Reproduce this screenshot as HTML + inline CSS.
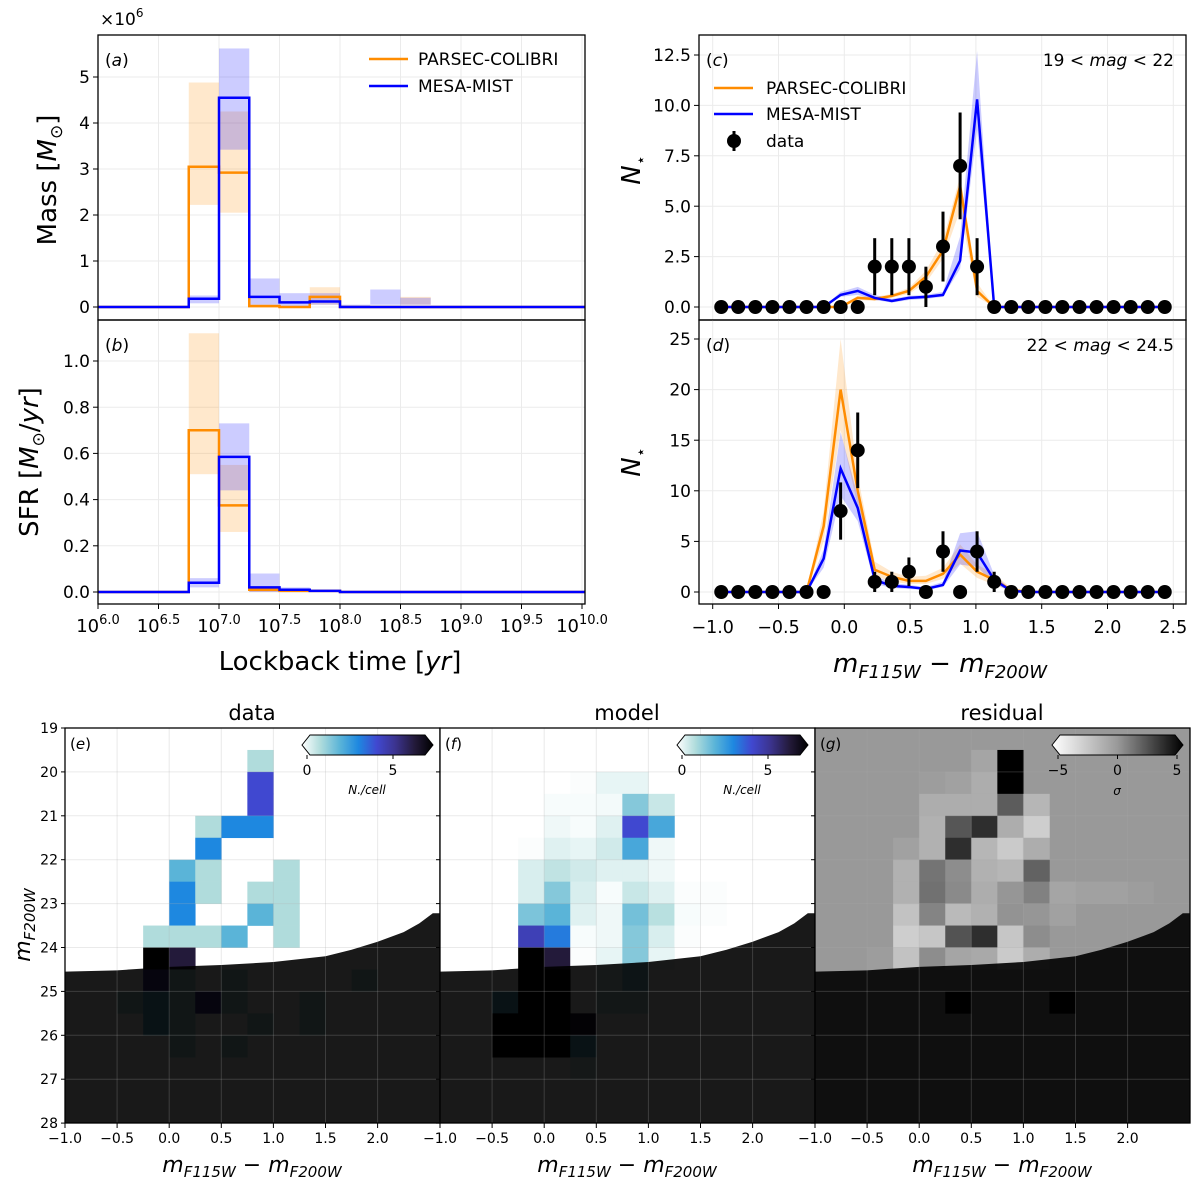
<!DOCTYPE html>
<html><head><meta charset="utf-8">
<style>
html,body{margin:0;padding:0;background:#fff;}
svg{display:block;font-family:"DejaVu Sans","Liberation Sans",sans-serif;}
</style></head>
<body>
<svg id="chart" width="1200" height="1184" viewBox="0 0 1200 1184" xmlns="http://www.w3.org/2000/svg">
<defs>
<linearGradient id="cmapE" x1="0" x2="1" y1="0" y2="0">
<stop offset="0" stop-color="#ffffff"/><stop offset="0.14" stop-color="#b0dcdc"/><stop offset="0.29" stop-color="#5ab4d8"/><stop offset="0.43" stop-color="#1e88e0"/><stop offset="0.57" stop-color="#4048d0"/><stop offset="0.71" stop-color="#3c3490"/><stop offset="0.86" stop-color="#231a3a"/><stop offset="1" stop-color="#000000"/>
</linearGradient>
<linearGradient id="cmapG" x1="0" x2="1" y1="0" y2="0">
<stop offset="0" stop-color="#ffffff"/><stop offset="0.5" stop-color="#999999"/><stop offset="1" stop-color="#000000"/>
</linearGradient>
<clipPath id="clipA"><rect x="98" y="35" width="487" height="285"/></clipPath>
<clipPath id="clipB"><rect x="98" y="320" width="487" height="284"/></clipPath>
<clipPath id="clipC"><rect x="699" y="35" width="487" height="285"/></clipPath>
<clipPath id="clipD"><rect x="699" y="320" width="487" height="284"/></clipPath>
<clipPath id="clipH0"><rect x="65" y="728" width="375" height="395"/></clipPath>
<clipPath id="clipH1"><rect x="440" y="728" width="375" height="395"/></clipPath>
<clipPath id="clipH2"><rect x="815" y="728" width="375" height="395"/></clipPath>
</defs>
</svg>
<script>
// ---------- DATA: panels (a)/(b) ----------
const binEdges = [6.75, 7.0, 7.25, 7.5, 7.75, 8.0, 8.25, 8.5, 8.75];
const massOrange   = [3.05, 2.92, 0.02, 0.00, 0.22, 0, 0, 0];
const massOrangeLo = [2.22, 2.05, 0.00, 0.00, 0.05, 0, 0, 0.05];
const massOrangeHi = [4.88, 4.25, 0.06, 0.02, 0.43, 0, 0, 0.22];
const massBlue     = [0.18, 4.55, 0.22, 0.10, 0.12, 0, 0, 0];
const massBlueLo   = [0.08, 3.42, 0.05, 0.02, 0.05, 0, 0.05, 0.05];
const massBlueHi   = [0.25, 5.62, 0.62, 0.30, 0.30, 0.05, 0.38, 0.20];
const sfrOrange    = [0.70, 0.375, 0.01, 0.005, 0.005, 0, 0, 0];
const sfrOrangeLo  = [0.51, 0.26, 0.00, 0.00, 0.00, 0, 0, 0];
const sfrOrangeHi  = [1.12, 0.55, 0.02, 0.01, 0.01, 0, 0, 0];
const sfrBlue      = [0.04, 0.585, 0.02, 0.01, 0.005, 0, 0, 0];
const sfrBlueLo    = [0.02, 0.44, 0.00, 0.00, 0.00, 0, 0, 0];
const sfrBlueHi    = [0.06, 0.73, 0.08, 0.02, 0.01, 0, 0, 0];
const massTicks = [0, 1, 2, 3, 4, 5];
const sfrTicks = [0.0, 0.2, 0.4, 0.6, 0.8, 1.0];
const ageTicks = [6.0, 6.5, 7.0, 7.5, 8.0, 8.5, 9.0, 9.5, 10.0];

// ---------- DATA: panels (c)/(d) ----------
const colorCenters = [-0.935,-0.806,-0.676,-0.546,-0.417,-0.287,-0.157,-0.028,0.102,0.231,0.361,0.491,0.620,0.750,0.880,1.009,1.139,1.269,1.398,1.528,1.657,1.787,1.917,2.046,2.176,2.306,2.435];
const cData    = [0,0,0,0,0,0,0,0,0,2,2,2,1,3,7,2,0,0,0,0,0,0,0,0,0,0,0];
const cOrange  = [0,0,0,0,0,0,0,0,0.45,0.4,0.55,0.8,1.5,2.8,6.0,0.8,0,0,0,0,0,0,0,0,0,0,0];
const cOrangeLo= [0,0,0,0,0,0,0,0,0.35,0.3,0.45,0.65,1.2,2.4,4.8,0.5,0,0,0,0,0,0,0,0,0,0,0];
const cOrangeHi= [0,0,0,0,0,0,0,0.05,0.55,0.5,0.65,0.95,1.8,3.3,6.5,1.2,0,0,0,0,0,0,0,0,0,0,0];
const cBlue    = [0,0,0,0,0,0,0,0.6,0.8,0.45,0.3,0.45,0.5,0.6,2.3,10.3,0,0,0,0,0,0,0,0,0,0,0];
const cBlueLo  = [0,0,0,0,0,0,0,0.5,0.6,0.35,0.22,0.35,0.4,0.5,1.9,8.8,0,0,0,0,0,0,0,0,0,0,0];
const cBlueHi  = [0,0,0,0,0,0,0,0.75,1.0,0.6,0.4,0.55,0.6,0.75,3.5,12.7,0,0,0,0,0,0,0,0,0,0,0];
const dData    = [0,0,0,0,0,0,0,8,14,1,1,2,0,4,0,4,1,0,0,0,0,0,0,0,0,0,0];
const dOrange  = [0,0,0,0,0,0,6.5,20,10,2.2,1.5,1.1,1.1,1.8,3.7,2.0,1.2,0.2,0,0,0,0,0,0,0,0,0];
const dOrangeLo= [0,0,0,0,0,0,5,16,8.5,1.6,1.0,0.8,0.8,1.3,2.8,1.4,0.7,0.05,0,0,0,0,0,0,0,0,0];
const dOrangeHi= [0,0,0,0,0,0,8,25,11.5,3.0,2.0,1.5,1.6,2.4,4.7,2.7,1.8,0.4,0,0,0,0,0,0,0,0,0];
const dBlue    = [0,0,0,0,0,0,3.3,12.2,8.3,1.2,0.6,0.5,0.3,0.7,4.1,3.9,1.2,0.1,0,0,0,0,0,0,0,0,0];
const dBlueLo  = [0,0,0,0,0,0,2.4,9.5,7,0.8,0.4,0.3,0.2,0.5,2.7,2.5,0.8,0.05,0,0,0,0,0,0,0,0,0];
const dBlueHi  = [0,0,0,0,0,0,4.2,15.8,9.5,1.6,0.9,0.7,0.5,1.0,5.8,6.0,1.7,0.2,0,0,0,0,0,0,0,0,0];
const colorTicks = [-1.0,-0.5,0.0,0.5,1.0,1.5,2.0,2.5];
const cTicks = [0.0,2.5,5.0,7.5,10.0,12.5];
const dTicks = [0,5,10,15,20,25];

// ---------- DATA: heatmaps (e)(f)(g) ; rows mag 19.0..27.5 step 0.5, cols color -1.0..2.25 step 0.25 ----------
const cellColorEdges = [-1.0,-0.75,-0.5,-0.25,0.0,0.25,0.5,0.75,1.0,1.25,1.5,1.75,2.0,2.25];
const cellMagEdges = [19.0,19.5,20.0,20.5,21.0,21.5,22.0,22.5,23.0,23.5,24.0,24.5,25.0,25.5,26.0,26.5,27.0,27.5];
const gridData = [
[0,0,0,0,0,0,0,0,0,0,0,0,0,0],
[0,0,0,0,0,0,0,1,0,0,0,0,0,0],
[0,0,0,0,0,0,0,4,0,0,0,0,0,0],
[0,0,0,0,0,0,0,4,0,0,0,0,0,0],
[0,0,0,0,0,1,3,3,0,0,0,0,0,0],
[0,0,0,0,0,3,0,0,0,0,0,0,0,0],
[0,0,0,0,2,1,0,0,1,0,0,0,0,0],
[0,0,0,0,3,1,0,1,1,0,0,0,0,0],
[0,0,0,0,3,0,0,2,1,0,0,0,0,0],
[0,0,0,1,1,1,2,0,1,0,0,0,0,0],
[0,0,0,8,6,0,0,0,0,0,0,0,0,0],
[0,0,0,5,1,0,1,0,0,0,0,1,0,0],
[0,0,1,2,1,5,1,0,0,1,0,0,0,0],
[0,0,0,2,1,0,0,1,0,1,0,0,0,0],
[0,0,0,0,1,0,1,0,0,0,0,0,0,0],
[0,0,0,0,0,0,0,0,0,0,0,0,0,0],
[0,0,0,0,0,0,0,0,0,0,0,0,0,0],
[0,0,0,0,0,0,0,0,0,0,0,0,0,0]];
const gridModel = [
[0,0,0,0,0,0,0,0,0,0,0,0,0,0],
[0,0,0,0,0,0,0,0,0,0,0,0,0,0],
[0,0,0,0,0,0.05,0.3,0.3,0,0,0,0,0,0],
[0,0,0,0,0.1,0.1,0.15,1.5,0.7,0,0,0,0,0],
[0,0,0,0,0.2,0.1,0.4,4,2.3,0,0,0,0,0],
[0,0,0,0.05,0.4,0.3,0.6,2.3,0.2,0,0,0,0,0],
[0,0,0,0.5,0.8,0.6,0.4,0.4,0.2,0,0,0,0,0],
[0,0,0,0.5,1.5,0.5,0.1,0.7,0.4,0.05,0.05,0,0,0],
[0,0,0,1.6,2.0,0.4,0.2,1.7,0.9,0.1,0.05,0,0,0],
[0,0,0,4.4,3.2,0.1,0.2,1.5,0.5,0.05,0,0,0,0],
[0,0,0,8,6,0.05,0.3,1.5,0.3,0,0,0,0,0],
[0,0,0,8,8,0,0.5,1.5,0,0,0,0,0,0],
[0,0,2,8,8,0,0.8,0.8,0,0,0,0,0,0],
[0,0,8,8,8,6,0,0,0,0,0,0,0,0],
[0,0,7,8,8,2,0,0,0,0,0,0,0,0],
[0,0,0,0,0,0.5,0,0,0,0,0,0,0,0],
[0,0,0,0,0,0,0,0,0,0,0,0,0,0],
[0,0,0,0,0,0,0,0,0,0,0,0,0,0]];
const gridResid = [
[0,0,0,0,0,0,0,0,0,0,0,0,0,0],
[0,0,0,0,0,0,-0.6,5,0,0,0,0,0,0],
[0,0,0,0,-0.2,-0.4,-1.0,5,0,0,0,0,0,0],
[0,0,0,0,-1.0,-1.0,-1.0,2,-1.4,0,0,0,0,0],
[0,0,0,0,-1.2,2.2,3.5,-1.0,-2.6,0,0,0,0,0],
[0,0,0,-0.4,-1.2,3.5,-1.4,-2.4,-1.0,0,0,0,0,0],
[0,0,0,-1.2,1.2,0.4,-1.2,-1.4,1.8,0,0,0,0,0],
[0,0,0,-1.2,1.3,0.5,-1.0,0.1,0.8,-0.6,-0.4,-0.4,-0.2,0],
[0,0,0,-2.0,0.7,-1.6,-1.2,0.2,0.1,-0.4,0,0,0,0],
[0,0,0,-2.6,-2.2,2.3,3.5,-2.2,0.4,0,0,0,0,0],
[0,0,-0.2,-2.0,0.4,-0.6,-0.8,-2.4,-1.0,0,0,0,0,0],
[0,0,0,0,0,0,0,0,0,0,0,0,0,0],
[0,0,0,0,0,5,0,0,0,5,0,0,0,0],
[0,0,0,0,0,0,0,0,0,0,0,0,0,0],
[0,0,0,0,0,0,0,0,0,0,0,0,0,0],
[0,0,0,0,0,0,0,0,0,0,0,0,0,0],
[0,0,0,0,0,0,0,0,0,0,0,0,0,0],
[0,0,0,0,0,0,0,0,0,0,0,0,0,0]];
const maskColor = [-1.0,-0.5,0.0,0.5,1.0,1.5,1.75,2.0,2.25,2.4,2.53,2.6];
const maskMag   = [24.55,24.52,24.44,24.4,24.33,24.2,24.05,23.87,23.65,23.45,23.22,23.22];
const magTicks = [19,20,21,22,23,24,25,26,27,28];
const heatColorTicks = [-1.0,-0.5,0.0,0.5,1.0,1.5,2.0];

// ---------- helpers ----------
const NS='http://www.w3.org/2000/svg';
const svg=document.getElementById('chart');
function el(tag,attrs,parent){const e=document.createElementNS(NS,tag);for(const k in attrs)e.setAttribute(k,attrs[k]);(parent||svg).appendChild(e);return e;}
const ORANGE='#ff8c00', BLUE='#0000ff';
const OBAND='rgba(255,140,0,0.2)', BBAND='rgba(0,0,255,0.2)';

// scales
const XA = lg => 98 + (lg-6)*121;
const YA = m => 307 - m*46;
const YB = s => 592 - s*231;
const XC = c => 712.7 + (c+1)*131.6;
const YC = n => 307 - n*20.16;
const YD = n => 592 - n*10.12;
const heatOff = [65,440,815];
const XH = (c,p) => heatOff[p] + (c+1)*104.2;
const YH = m => 728 + (m-19)*43.9;

// ---------- panels a, b ----------
function gridLinesX(ticks, X, y0, y1, parent){ticks.forEach(t=>{const g=el('line',{x1:X(t),x2:X(t),y1:y0,y2:y1,stroke:'#ebebeb','stroke-width':1},parent);

});}
function gridLinesY(ticks, Y, x0, x1, parent){ticks.forEach(t=>{const g=el('line',{x1:x0,x2:x1,y1:Y(t),y2:Y(t),stroke:'#ebebeb','stroke-width':1},parent);

});}
function yTicks(ticks, Y, x, fmt, parent, fs){ticks.forEach(t=>{
 const tk=el('line',{x1:x-5,x2:x,y1:Y(t),y2:Y(t),stroke:'#000','stroke-width':1},parent);
 
 
 const tx=el('text',{x:x-8,y:Y(t)+fs*0.36,'text-anchor':'end','font-size':fs},parent);
 tx.textContent=fmt(t);
 
 });}
function stepPath(vals, X, Y, xStart, xEnd){let d=`M${X(xStart)},${Y(0)} L${X(binEdges[0])},${Y(0)}`;
 for(let i=0;i<vals.length;i++){d+=` L${X(binEdges[i])},${Y(vals[i])} L${X(binEdges[i+1])},${Y(vals[i])}`;}
 d+=` L${X(binEdges[binEdges.length-1])},${Y(0)} L${X(xEnd)},${Y(0)}`;return d;}

function drawAB(name, Y, ticks, fmt, oV,oL,oH,bV,bL,bH, clip, y0, y1){
 const g=el('g',{});
 
 
 gridLinesX(ageTicks, XA, y0, y1, g);
 gridLinesY(ticks, Y, 98, 585, g);
 const cg=el('g',{'clip-path':`url(#${clip})`},g);
 for(let i=0;i<oV.length;i++){
  if(oH[i]>oL[i]){const r=el('rect',{x:XA(binEdges[i]),width:XA(binEdges[i+1])-XA(binEdges[i]),y:Y(oH[i]),height:Y(oL[i])-Y(oH[i]),fill:OBAND},cg);
   
   }
  if(bH[i]>bL[i]){const r=el('rect',{x:XA(binEdges[i]),width:XA(binEdges[i+1])-XA(binEdges[i]),y:Y(bH[i]),height:Y(bL[i])-Y(bH[i]),fill:BBAND},cg);
   
   }
 }
 const po=el('path',{d:stepPath(oV,XA,Y,6.0,10.1),fill:'none',stroke:ORANGE,'stroke-width':2.5},cg);
 
 
 const pb=el('path',{d:stepPath(bV,XA,Y,6.0,10.1),fill:'none',stroke:BLUE,'stroke-width':2.5},cg);
 
 
 yTicks(ticks, Y, 98, fmt, g, 17);
 const fr=el('rect',{x:98,y:y0,width:487,height:y1-y0,fill:'none',stroke:'#000','stroke-width':1.3},g);
 
 
 return g;
}
const gA=drawAB('panel-a-mass',YA,massTicks,t=>String(t),massOrange,massOrangeLo,massOrangeHi,massBlue,massBlueLo,massBlueHi,'clipA',35,320);
const gB=drawAB('panel-b-sfr',YB,sfrTicks,t=>t.toFixed(1),sfrOrange,sfrOrangeLo,sfrOrangeHi,sfrBlue,sfrBlueLo,sfrBlueHi,'clipB',320,604);
ageTicks.forEach(t=>{
 const tk=el('line',{x1:XA(t),x2:XA(t),y1:604,y2:609,stroke:'#000'},gB);
 
 
 const tx=el('text',{x:XA(t),y:632,'text-anchor':'middle','font-size':18},gB);
 tx.innerHTML=`10<tspan font-size="13" dy="-8">${t.toFixed(1)}</tspan>`;
 
 
});

// ---------- panels c, d ----------
function bandPoly(lo,hi,Y){let pts=[];for(let k=0;k<lo.length;k++)pts.push(`${XC(colorCenters[k])},${Y(hi[k])}`);
 for(let k=lo.length-1;k>=0;k--)pts.push(`${XC(colorCenters[k])},${Y(lo[k])}`);return pts.join(' ');}
function linePts(v,Y){return v.map((val,k)=>`${XC(colorCenters[k])},${Y(val)}`).join(' ');}
function drawCD(name,Y,ticks,fmt,data,oV,oL,oH,bV,bL,bH,clip,y0,y1){
 const g=el('g',{});
 
 
 gridLinesX(colorTicks, XC, y0, y1, g);
 gridLinesY(ticks, Y, 699, 1186, g);
 const cg=el('g',{'clip-path':`url(#${clip})`},g);
 const ob=el('polygon',{points:bandPoly(oL,oH,Y),fill:OBAND},cg);
 
 
 const bb=el('polygon',{points:bandPoly(bL,bH,Y),fill:BBAND},cg);
 
 
 const ol=el('polyline',{points:linePts(oV,Y),fill:'none',stroke:ORANGE,'stroke-width':2.5},cg);
 
 
 const bl=el('polyline',{points:linePts(bV,Y),fill:'none',stroke:BLUE,'stroke-width':2.5},cg);
 
 
 data.forEach((n,k)=>{
  const x=XC(colorCenters[k]);
  if(n>0){const e=Math.sqrt(n);const eb=el('line',{x1:x,x2:x,y1:Y(n+e),y2:Y(n-e),stroke:'#000','stroke-width':3},cg);
   
   }
  const c=el('circle',{cx:x,cy:Y(n),r:7,fill:'#000'},cg);
  
  
 });
 yTicks(ticks, Y, 699, fmt, g, 17);
 const fr=el('rect',{x:699,y:y0,width:487,height:y1-y0,fill:'none',stroke:'#000','stroke-width':1.3},g);
 
 
 return g;
}
const gC=drawCD('panel-c-bright-cmd-hist',YC,cTicks,t=>t.toFixed(1),cData,cOrange,cOrangeLo,cOrangeHi,cBlue,cBlueLo,cBlueHi,'clipC',35,320);
const gD=drawCD('panel-d-faint-cmd-hist',YD,dTicks,t=>String(t),dData,dOrange,dOrangeLo,dOrangeHi,dBlue,dBlueLo,dBlueHi,'clipD',320,604);
colorTicks.forEach(t=>{
 const tk=el('line',{x1:XC(t),x2:XC(t),y1:604,y2:609,stroke:'#000'},gD);
 
 
 const tx=el('text',{x:XC(t),y:633,'text-anchor':'middle','font-size':17.5},gD);
 tx.textContent=(t<0?'\u2212'+Math.abs(t).toFixed(1):t.toFixed(1));
 
 
});

// ---------- heatmaps ----------
const cmapStops=[[0,[255,255,255]],[1,[176,220,220]],[2,[90,180,216]],[3,[30,136,224]],[4,[64,72,208]],[5,[60,52,144]],[6,[35,26,58]],[7,[0,0,0]]];
function cmapE(v){if(v>=7)return 'rgb(0,0,0)';for(let i=0;i<cmapStops.length-1;i++){const [a,ca]=cmapStops[i],[b,cb]=cmapStops[i+1];if(v<=b){const f=(v-a)/(b-a);return `rgb(${ca.map((c,j)=>Math.round(c+(cb[j]-c)*f)).join(',')})`;}}}
function cmapG(v){let l=v<0?153+Math.min(1,-v/5)*102:153*(1-Math.min(1,v/5));l=Math.round(l);return `rgb(${l},${l},${l})`;}
const heatGrids=[gridData,gridModel,gridResid];
const heatNames=['panel-e-data-heatmap','panel-f-model-heatmap','panel-g-residual-heatmap'];
const heatTitles=['data','model','residual'];
const heatLetters=['e','f','g'];
for(let p=0;p<3;p++){
 const g=el('g',{});
 
 
 const cg=el('g',{'clip-path':`url(#clipH${p})`},g);
 const bg=el('rect',{x:heatOff[p],y:728,width:375,height:395,fill:p===2?'#999999':'#ffffff'},cg);
 
 
 const grid=heatGrids[p];
 for(let r=0;r<cellMagEdges.length;r++)for(let c=0;c<cellColorEdges.length;c++){
  const v=grid[r][c]; if(v===0)continue;
  const x0=XH(cellColorEdges[c],p), x1=XH(cellColorEdges[c]+0.25,p), yy0=YH(cellMagEdges[r]), yy1=YH(cellMagEdges[r]+0.5);
  const cell=el('rect',{x:x0,y:yy0,width:x1-x0+0.3,height:yy1-yy0+0.3,fill:p===2?cmapG(v):cmapE(v)},cg);
  
  
 }
 // completeness mask
 let d=`M${XH(maskColor[0],p)},${YH(maskMag[0])}`;
 for(let i=1;i<maskColor.length;i++)d+=` L${XH(maskColor[i],p)},${YH(maskMag[i])}`;
 d+=` L${XH(2.6,p)},${YH(28)} L${XH(-1,p)},${YH(28)} Z`;
 const mk=el('path',{d:d,fill:'rgba(0,0,0,0.9)'},cg);
 
 
 heatColorTicks.forEach(t=>{const l=el('line',{x1:XH(t,p),x2:XH(t,p),y1:728,y2:1123,stroke:'rgba(170,170,170,0.25)','stroke-width':1},cg);
  
  });
 magTicks.forEach(t=>{const l=el('line',{x1:heatOff[p],x2:heatOff[p]+375,y1:YH(t),y2:YH(t),stroke:'rgba(170,170,170,0.25)','stroke-width':1},cg);
  
  });
 const fr=el('rect',{x:heatOff[p],y:728,width:375,height:395,fill:'none',stroke:'#000','stroke-width':1.3},g);
 
 
 heatColorTicks.forEach(t=>{
  const tk=el('line',{x1:XH(t,p),x2:XH(t,p),y1:1123,y2:1128,stroke:'#000'},g);
  
  
  const tx=el('text',{x:XH(t,p),y:1143,'text-anchor':'middle','font-size':14},g);
  tx.textContent=(t<0?'\u2212'+Math.abs(t).toFixed(1):t.toFixed(1));
  
  
 });
 magTicks.forEach(t=>{
  const tk=el('line',{x1:heatOff[p]-4,x2:heatOff[p],y1:YH(t),y2:YH(t),stroke:'#000'},g);
  
  
  if(p===0){const tx=el('text',{x:heatOff[p]-7,y:YH(t)+5,'text-anchor':'end','font-size':14},g);
   tx.textContent=String(t);
   
   }
 });
 const tt=el('text',{x:heatOff[p]+187,y:720,'text-anchor':'middle','font-size':21},g);
 tt.textContent=heatTitles[p];
 
 
 const lt=el('text',{x:heatOff[p]+5,y:749,'font-size':15},g);
 lt.innerHTML=`(<tspan font-style="italic">${heatLetters[p]}</tspan>)`;
 
 
 const xl=el('text',{x:heatOff[p]+187,y:1172,'text-anchor':'middle','font-size':22},g);
 xl.innerHTML='<tspan font-style="italic">m</tspan><tspan font-size="15" dy="5" font-style="italic">F115W</tspan><tspan dy="-5"> \u2212 </tspan><tspan font-style="italic">m</tspan><tspan font-size="15" dy="5" font-style="italic">F200W</tspan>';
 
 
 // colorbar
 const cbx=[302,677,1052][p];
 const cb=el('path',{d:`M${cbx},745 L${cbx+8},735 L${cbx+123},735 L${cbx+131},745 L${cbx+123},755 L${cbx+8},755 Z`,fill:p===2?'url(#cmapG)':'url(#cmapE)',stroke:'#000','stroke-width':1},g);
 
 
 const cbTickVals=p===2?[-5,0,5]:[0,5];
 cbTickVals.forEach(v=>{
  const x=p===2?cbx+6+(v+5)*11.9:cbx+5+v*17.2;
  const tk=el('line',{x1:x,x2:x,y1:755,y2:759,stroke:'#000'},g);
  
  
  const tx=el('text',{x:x,y:775,'text-anchor':'middle','font-size':14},g);
  tx.textContent=v<0?'\u2212'+Math.abs(v):String(v);
  
  
 });
 const cl=el('text',{x:p===2?cbx+65:cbx+65,y:p===2?795:794,'text-anchor':'middle','font-size':12,'font-style':'italic'},g);
 cl.textContent=p===2?'\u03c3':'N./cell';
 
 
}
</script>
<svg width="0" height="0" style="position:absolute"></svg>
<script>
// ---------- static labels ----------
function T(x,y,html,attrs,name){const e=document.createElementNS(NS,'text');e.setAttribute('x',x);e.setAttribute('y',y);for(const k in attrs)e.setAttribute(k,attrs[k]);e.innerHTML=html;svg.appendChild(e);return e;}
let t;
t=T(100,25,'\u00d710<tspan font-size="12" dy="-8">6</tspan>',{'font-size':17});


t=T(105,66,'(<tspan font-style="italic">a</tspan>)',{'font-size':17});


t=T(105,351,'(<tspan font-style="italic">b</tspan>)',{'font-size':17});


t=T(706,66,'(<tspan font-style="italic">c</tspan>)',{'font-size':17});


t=T(706,351,'(<tspan font-style="italic">d</tspan>)',{'font-size':17});


t=T(1174,66,'19 &lt; <tspan font-style="italic">mag</tspan> &lt; 22',{'font-size':17,'text-anchor':'end'});


t=T(1174,351,'22 &lt; <tspan font-style="italic">mag</tspan> &lt; 24.5',{'font-size':17,'text-anchor':'end'});


// legend a
let l;
l=el('line',{x1:369,x2:408,y1:59,y2:59,stroke:ORANGE,'stroke-width':2.5});


l=el('line',{x1:369,x2:408,y1:86,y2:86,stroke:BLUE,'stroke-width':2.5});


t=T(418,65,'PARSEC-COLIBRI',{'font-size':17});


t=T(418,92,'MESA-MIST',{'font-size':17});


// legend c
l=el('line',{x1:714,x2:753,y1:88,y2:88,stroke:ORANGE,'stroke-width':2.5});


l=el('line',{x1:714,x2:753,y1:114,y2:114,stroke:BLUE,'stroke-width':2.5});


l=el('line',{x1:734,x2:734,y1:131,y2:151,stroke:'#000','stroke-width':3});


l=el('circle',{cx:734,cy:141,r:7,fill:'#000'});


t=T(766,94,'PARSEC-COLIBRI',{'font-size':17});


t=T(766,120,'MESA-MIST',{'font-size':17});


t=T(766,147,'data',{'font-size':17});


// axis titles
t=T(340,670,'Lockback time [<tspan font-style="italic">yr</tspan>]',{'font-size':26,'text-anchor':'middle'});


t=T(940,672,'<tspan font-style="italic">m</tspan><tspan font-size="18" dy="6" font-style="italic">F115W</tspan><tspan dy="-6"> \u2212 </tspan><tspan font-style="italic">m</tspan><tspan font-size="18" dy="6" font-style="italic">F200W</tspan>',{'font-size':26,'text-anchor':'middle'});


t=T(0,0,'Mass [<tspan font-style="italic">M</tspan><tspan font-size="17" dy="6">\u2299</tspan><tspan dy="-6">]</tspan>',{'font-size':26,'text-anchor':'middle',transform:'translate(56,180) rotate(-90)'});


t=T(0,0,'SFR [<tspan font-style="italic">M</tspan><tspan font-size="17" dy="6">\u2299</tspan><tspan dy="-6">/</tspan><tspan font-style="italic">yr</tspan>]',{'font-size':26,'text-anchor':'middle',transform:'translate(38,462) rotate(-90)'});


t=T(0,0,'<tspan font-style="italic">N</tspan><tspan font-size="16" dy="6">\u22c6</tspan>',{'font-size':26,'text-anchor':'middle',transform:'translate(640,170) rotate(-90)'});


t=T(0,0,'<tspan font-style="italic">N</tspan><tspan font-size="16" dy="6">\u22c6</tspan>',{'font-size':26,'text-anchor':'middle',transform:'translate(640,462) rotate(-90)'});


t=T(0,0,'<tspan font-style="italic">m</tspan><tspan font-size="15" dy="5" font-style="italic">F200W</tspan>',{'font-size':22,'text-anchor':'middle',transform:'translate(30,925) rotate(-90)'});


</script>
</body></html>
